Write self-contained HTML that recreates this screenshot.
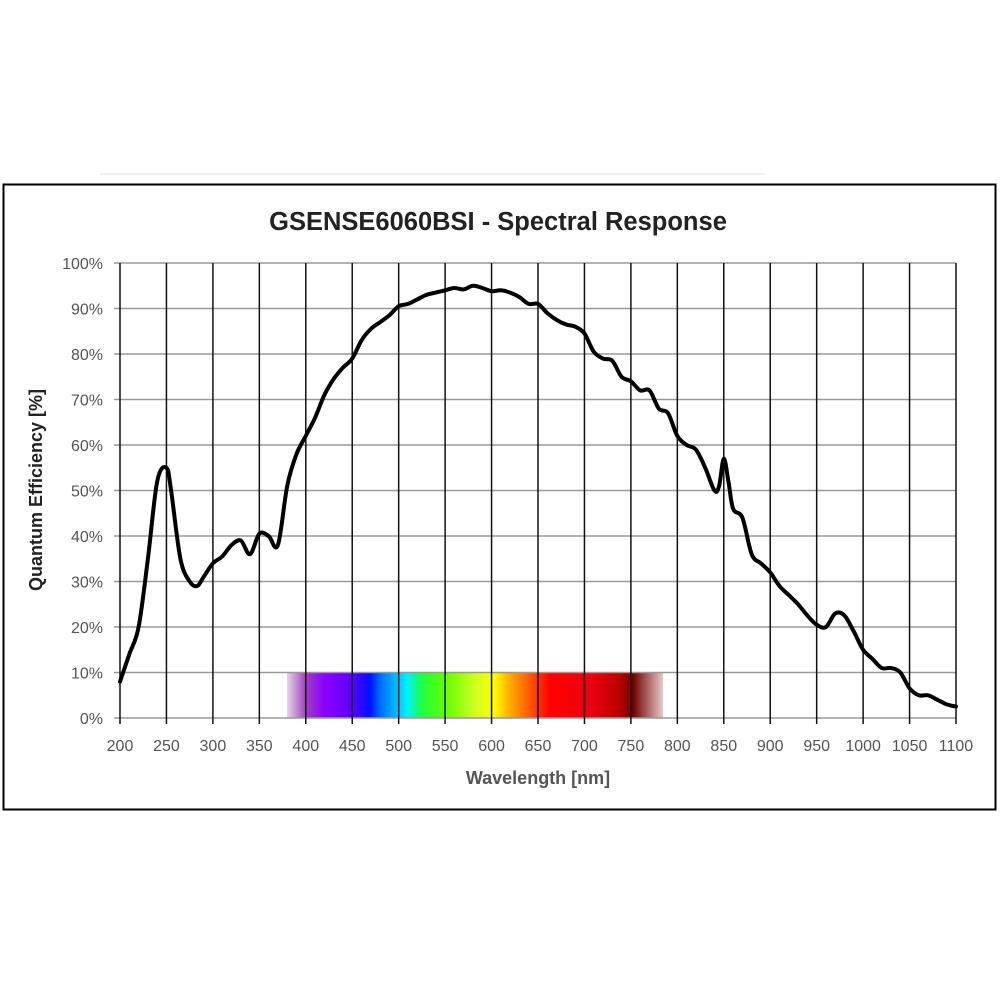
<!DOCTYPE html><html><head><style>body{margin:0;background:#fff}svg{display:block}text{font-family:"Liberation Sans",sans-serif}</style></head><body>
<svg id="s" width="1000" height="1000" xmlns="http://www.w3.org/2000/svg">
<defs><linearGradient id="sp" x1="287" x2="663" gradientUnits="userSpaceOnUse" y1="0" y2="0">
<stop offset="0" stop-color="#e8d6e8"/><stop offset="0.05" stop-color="#a040c0"/><stop offset="0.1" stop-color="#8a00ff"/><stop offset="0.17" stop-color="#6000ff"/><stop offset="0.22" stop-color="#0010ff"/><stop offset="0.25" stop-color="#0070ff"/><stop offset="0.32" stop-color="#00f0ff"/><stop offset="0.36" stop-color="#20ff40"/><stop offset="0.42" stop-color="#60ff00"/><stop offset="0.5" stop-color="#d0ff20"/><stop offset="0.55" stop-color="#ffff00"/><stop offset="0.6" stop-color="#ffa000"/><stop offset="0.66" stop-color="#ff4000"/><stop offset="0.7" stop-color="#ff0000"/><stop offset="0.8" stop-color="#ee0010"/><stop offset="0.88" stop-color="#c00000"/><stop offset="0.92" stop-color="#700000"/><stop offset="1" stop-color="#e8c8c8"/></linearGradient></defs>
<line x1="100" y1="174" x2="765" y2="174" stroke="#ddd"/>
<rect x="3.5" y="184.5" width="992" height="625" fill="#fff" stroke="#000" stroke-width="2"/>
<text x="498" y="230" text-anchor="middle" font-size="25.5" font-weight="bold" fill="#222">GSENSE6060BSI - Spectral Response</text>
<rect x="287" y="672.5" width="376" height="45.5" fill="url(#sp)"/>
<g id="g"></g>
<text x="538" y="784" text-anchor="middle" font-size="18" font-weight="bold" fill="#555">Wavelength [nm]</text>
<text transform="translate(42,490) rotate(-90)" text-anchor="middle" font-size="18" font-weight="bold" fill="#222">Quantum Efficiency [%]</text>
</svg>
<script>
var g=document.getElementById('g'),h='';
function X(n){return 120+(n-200)*0.9289}function Y(p){return 718-p*4.55}
for(var p=0;p<=100;p+=10){h+='<line x1="114" x2="956" y1="'+Y(p)+'" y2="'+Y(p)+'" stroke="#999" stroke-width="1.5"/>';h+='<text x="103" y="'+(Y(p)+6)+'" text-anchor="end" font-size="16" fill="#555">'+p+'%</text>';}
for(var n=200;n<=1100;n+=50){h+='<line x1="'+X(n)+'" x2="'+X(n)+'" y1="263" y2="724" stroke="#111" stroke-width="1.5"/>';h+='<text x="'+X(n)+'" y="751" text-anchor="middle" font-size="16" fill="#555">'+n+'</text>';}
var d=[200,8,210,14,220,20,230,35,240,52,250,55,255,50,265,35,275,30,283,29,290,31,300,34,310,35.5,320,38,330,39,340,36,350,40.5,360,40,370,38,380,51,390,58,400,62,410,66,420,71,430,74.5,440,77,450,79,460,83,470,85.5,480,87,490,88.5,500,90.5,510,91,520,92,530,93,540,93.5,550,94,560,94.5,570,94.2,580,95,590,94.5,600,93.8,610,94,620,93.5,630,92.5,640,91,650,91,660,89,670,87.5,680,86.5,690,86,700,84.5,710,80.5,720,79,730,78.5,740,75,750,74,760,72,770,72,780,68,790,67,800,62,810,60,820,59,830,55,840,50,845,51,850,57,855,52,860,46,870,44,880,36,890,34,900,32,910,29,920,27,930,25,940,22.5,950,20.5,960,20,970,23,980,22.5,990,19,1000,15,1010,13,1020,11,1030,11,1040,10,1050,6.5,1060,5,1070,5,1080,4,1090,3,1100,2.5];
var P=[];for(var i=0;i<d.length;i+=2)P.push([X(d[i]),Y(d[i+1])]);
var s='M'+P[0][0].toFixed(1)+','+P[0][1].toFixed(1);
for(var i=0;i<P.length-1;i++){var p0=P[Math.max(0,i-1)],p1=P[i],p2=P[i+1],p3=P[Math.min(P.length-1,i+2)];
var c1x=p1[0]+(p2[0]-p0[0])/6,c1y=p1[1]+(p2[1]-p0[1])/6,c2x=p2[0]-(p3[0]-p1[0])/6,c2y=p2[1]-(p3[1]-p1[1])/6;
s+=' C'+c1x.toFixed(1)+','+c1y.toFixed(1)+' '+c2x.toFixed(1)+','+c2y.toFixed(1)+' '+p2[0].toFixed(1)+','+p2[1].toFixed(1);}
h+='<path d="'+s+'" fill="none" stroke="#000" stroke-width="4" stroke-linejoin="round" stroke-linecap="round"/>';
g.innerHTML=h;
</script></body></html>
